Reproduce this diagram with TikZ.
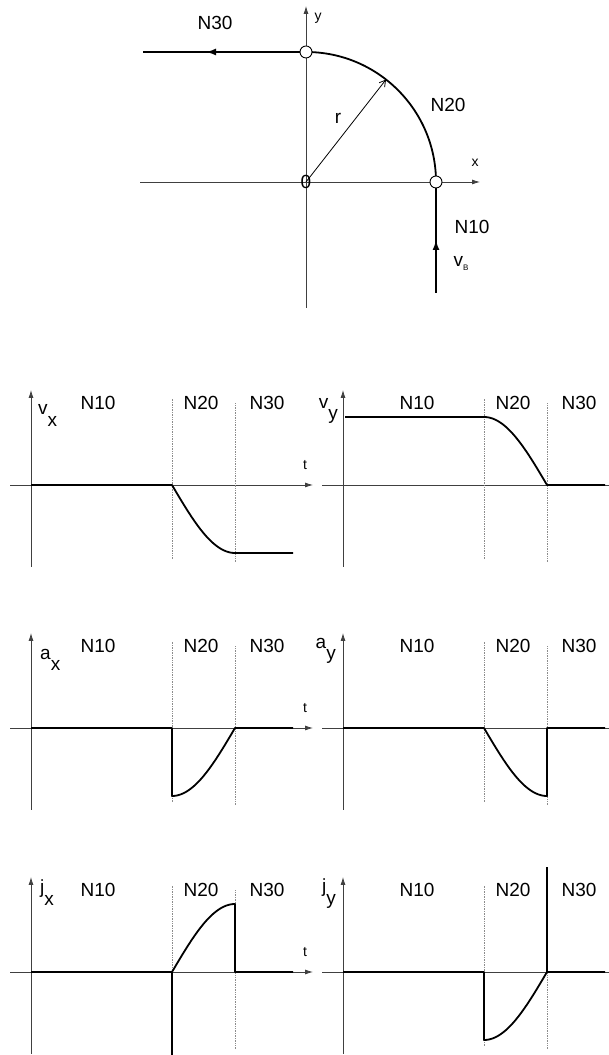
\documentclass[tikz,border=0pt]{standalone}
\usepackage{fontspec}
\setmainfont{Liberation Sans}
\usetikzlibrary{arrows.meta}
\tikzset{
  axis/.style={draw=black!75, line width=0.8pt},
  axisarrow/.style={axis, -{Latex[length=8pt,width=5pt]}},
  curve/.style={line width=1.8pt, line join=round},
  midarrow/.style={line width=1.8pt, -{Latex[length=10pt,width=7pt]}},
  border/.style={draw=black!45, line width=0.7pt, densely dotted},
  lbl/.style={inner sep=0pt, font=\fontsize{19}{19}\selectfont},
  small/.style={inner sep=0pt, font=\fontsize{14}{14}\selectfont},
  knot/.style={circle, draw, fill=white, line width=0.9pt, minimum size=12pt, inner sep=0pt},
}
\begin{document}
\begin{tikzpicture}[x=1pt,y=1pt]
  \useasboundingbox (0,0) rectangle (609,1055);
  % path of the tool: N10 up, N20 arc, N30 left
  \begin{scope}[shift={(306,873)}]
    \draw[axisarrow] (-166,0) -- (174,0);
    \draw[axisarrow] (0,-126) -- (0,176);
    \node[small] (xlab) at (169,19) {x};
    \node[small] (ylab) at (12,164) {y};
    \draw[curve] (130,-111) -- (130,0) arc[start angle=0, end angle=90, radius=130] -- (-163,130);
    \draw[midarrow] (130,-111) -- (130,-58);
    \draw[midarrow] (0,130) -- (-100,130);
    \draw[line width=0.8pt, -{Straight Barb[length=6pt,width=7pt]}] (0,0) -- (52:130);
    \node[knot] (start) at (130,0) {};
    \node[knot] (end) at (0,130) {};
    \node[lbl] (zero) at (0,0) {0};
    \node[lbl] (rad) at (32,64) {r};
    \node[lbl] (n30) at (-91,159) {N30};
    \node[lbl] (n20) at (142,77) {N20};
    \node[lbl] (n10) at (166,-45) {N10};
    \node[lbl] (vb) at (155,-81) {v\raisebox{-4pt}{\fontsize{8}{8}\selectfont B}};
  \end{scope}
  % frames of the six time charts
  \foreach \ox/\oy/\na/\tx in {31/570/67/274, 343/570/74/268,
                               31/327/67/274, 343/327/74/268,
                               31/83/67/274,  343/83/74/268} {
    \begin{scope}[shift={(\ox,\oy)}]
      \draw[axisarrow] (-21,0) -- (282,0);
      \draw[axisarrow] (0,-82) -- (0,95);
      \draw[border] (141,-74) -- (141,86);
      \draw[border] (204,-77) -- (204,82);
      \node[lbl] (a\ox\oy) at (\na,82) {N10};
      \node[lbl] (b\ox\oy) at (170,82) {N20};
      \node[lbl] (c\ox\oy) at (236,82) {N30};
      \node[small] (t\ox\oy) at (\tx,20) {t};
    \end{scope}
  }
  % velocity
  \begin{scope}[shift={(31,570)}]
    \node[lbl, anchor=base west] (vx) at (7,70) {v\raisebox{-12pt}{x}};
    \draw[curve] (0,0) -- (141,0) -- plot[domain=0:90, samples=30] ({141+0.7*\x},{-68*sin(\x)}) -- (262,-68);
  \end{scope}
  \begin{scope}[shift={(343,570)}]
    \node[lbl, anchor=base east] (vy) at (-5,76) {v\raisebox{-11pt}{y}};
    \draw[curve] (2,68) -- (141,68) -- plot[domain=0:90, samples=30] ({141+0.7*\x},{68*cos(\x)}) -- (262,0);
  \end{scope}
  % acceleration
  \begin{scope}[shift={(31,327)}]
    \node[lbl, anchor=base west] (ax) at (9,68) {a\raisebox{-11pt}{x}};
    \draw[curve] (0,0) -- (141,0) -- plot[domain=0:90, samples=30] ({141+0.7*\x},{-68*cos(\x)}) -- (262,0);
  \end{scope}
  \begin{scope}[shift={(343,327)}]
    \node[lbl, anchor=base east] (ay) at (-7,79) {a\raisebox{-11pt}{y}};
    \draw[curve] (0,0) -- (141,0) -- plot[domain=0:90, samples=30] ({141+0.7*\x},{-68*sin(\x)}) -- (204,0) -- (262,0);
  \end{scope}
  % jerk
  \begin{scope}[shift={(31,83)}]
    \node[lbl, anchor=base west] (jx) at (9,78) {j\raisebox{-12pt}{x}};
    \draw[curve] (0,0) -- (141,0) -- (141,-86);
    \draw[curve] (141,0) -- plot[domain=0:90, samples=30] ({141+0.7*\x},{68*sin(\x)}) -- (204,0) -- (262,0);
  \end{scope}
  \begin{scope}[shift={(343,83)}]
    \node[lbl, anchor=base east] (jy) at (-7,79) {j\raisebox{-12pt}{y}};
    \draw[curve] (0,0) -- (141,0) -- plot[domain=0:90, samples=30] ({141+0.7*\x},{-68*cos(\x)}) -- (262,0);
    \draw[curve] (204,0) -- (204,105);
  \end{scope}
\end{tikzpicture}
\end{document}
